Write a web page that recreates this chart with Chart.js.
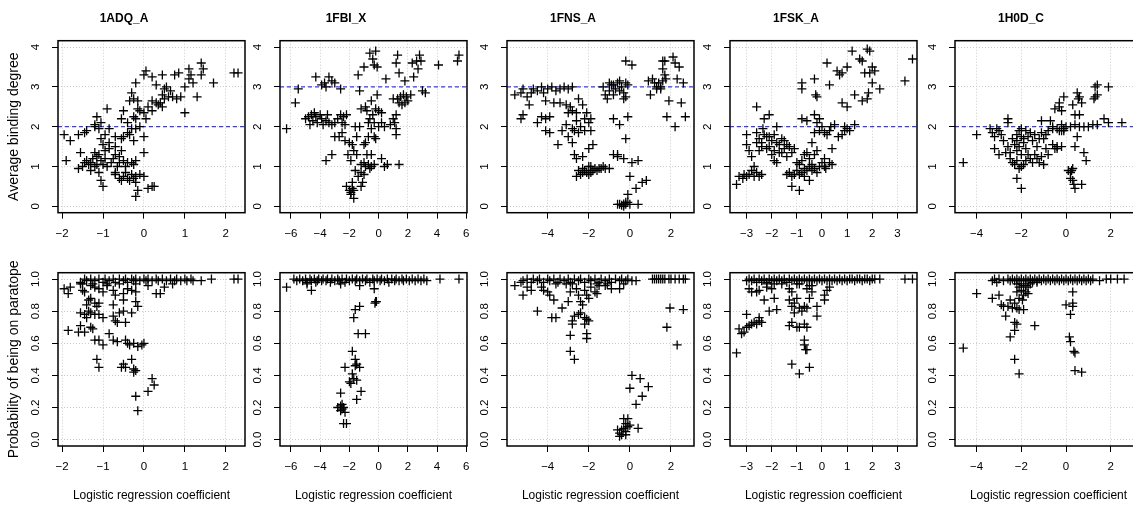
<!DOCTYPE html>
<html>
<head>
<meta charset="utf-8">
<script src="https://cdn.jsdelivr.net/npm/chart.js@4.4.1/dist/chart.umd.min.js"></script>
<style>
  html, body { margin: 0; padding: 0; background: #fff; overflow: hidden; }
  #wrap { position: relative; width: 1133px; height: 505px; overflow: hidden; }
  #wrap canvas { position: absolute; }
</style>
</head>
<body>
<div id="wrap"></div>
<script>
// proteins (one column each)
const panelNames = ['1ADQ_A', '1FBI_X', '1FNS_A', '1FSK_A', '1H0D_C'];
const xLimits = [[-2.1, 2.47], [-6.75, 6.05], [-5.98, 3.12], [-3.66, 3.78], [-4.97, 3.4]];
const xTicks = [[-2, -1, 0, 1, 2], [-6, -4, -2, 0, 2, 4, 6], [-4, -2, 0, 2], [-3, -2, -1, 0, 1, 2, 3], [-4, -2, 0, 2]];
const cutoffs = [2, 3, 3, 2, 2];   // dashed blue line, top row
const degreeTicks = [0, 1, 2, 3, 4];
const probTicks = [0, 0.2, 0.4, 0.6, 0.8, 1.0];

// top row: [coefficient, average binding degree]
const deg1ADQ = [
  [0.0,3.3],[0.05,3.4],[0.2,3.25],[0.45,3.3],[0.75,3.3],[0.85,3.35],[0.3,3.05],[1.1,3.45],[1.15,3.3],[1.2,3.1],[1.4,3.6],[1.45,3.45],[1.4,3.3],[1.7,3.1],[2.2,3.35],[2.3,3.35],[1.1,3.2],[1.0,3.0],[1.3,2.75],[0.9,2.75],[0.8,2.7],[0.65,2.9],[0.5,2.95],[0.45,2.8],[0.5,2.7],[0.4,2.6],[0.35,2.55],[0.2,2.65],[0.1,2.5],[0.2,2.4],[0.05,2.2],[0.0,2.35],[1.0,2.35],[0.6,2.75],[0.45,2.5],[0.55,3.0],[0.7,2.75],[0.3,2.6],
  [-0.2,3.1],[-0.35,2.65],[-0.25,2.7],[-0.3,2.85],[-0.15,2.65],[-0.15,2.45],[-0.1,2.4],[-0.2,2.2],[-0.25,2.25],[-0.5,2.4],[-0.55,2.2],[-0.1,2.0],[-0.2,1.95],[-0.3,1.95],[-0.4,1.85],[-0.35,1.8],[-0.5,1.75],[-0.55,1.7],[-0.7,1.75],[-0.9,2.45],[-0.85,1.95],[-0.95,1.8],[-1.05,2.1],[-1.1,1.95],[-1.2,2.05],[-1.15,2.25],[-1.2,2.0],[-1.4,1.9],[-1.45,1.85],[-1.6,1.8],[-1.95,1.8],[-1.8,1.65],[-1.9,1.15],[-1.55,1.35],[-1.05,1.7],[-1.0,1.55],[-0.85,1.6],[0.0,1.75],[0.0,1.35],[-0.7,1.5],[-0.4,2.1],[-0.25,1.65],
  [-1.6,0.95],[-1.5,1.0],[-1.45,1.1],[-1.35,1.05],[-1.3,0.9],[-1.25,1.2],[-1.2,1.0],[-1.15,1.25],[-1.1,1.3],[-1.05,1.15],[-1.0,1.05],[-0.95,1.4],[-1.1,0.85],[-1.05,0.65],[-1.0,0.5],[-0.9,1.0],[-0.8,1.1],[-0.75,1.2],[-0.7,1.3],[-0.6,1.25],[-0.65,1.0],[-0.55,1.4],[-0.5,1.15],[-0.45,1.0],[-0.4,1.1],[-0.3,1.1],[-0.25,1.05],[-0.2,1.15],[-1.4,1.15],[-1.2,1.35],[-0.85,1.45],[-0.7,0.85],[-1.3,1.1],[-1.15,1.05],[-0.95,1.2],[-0.6,1.1],
  [-0.7,0.8],[-0.6,0.7],[-0.5,0.75],[-0.45,0.85],[-0.4,0.7],[-0.3,0.8],[-0.25,0.7],[-0.2,0.75],[-0.1,0.8],[0.0,0.75],[-0.15,0.4],[-0.2,0.25],[0.1,0.45],[0.2,0.5],[0.25,0.5],[-0.35,0.65],[-0.55,0.65],[-0.2,0.6]
];
const deg1FBI = [
  [-6.3,1.95],[-5.5,2.95],[-5.7,2.6],
  [-5.0,2.2],[-4.8,2.25],[-4.6,2.3],[-4.5,2.15],[-4.3,2.25],[-4.2,2.1],[-4.0,2.3],[-3.9,2.2],[-3.8,2.05],[-3.6,2.15],[-3.5,2.3],[-3.4,2.1],[-3.2,2.05],[-3.0,2.1],[-2.8,2.2],[-2.6,2.3],[-2.4,2.25],[-2.5,2.1],[-2.2,2.3],[-2.3,2.05],[-4.7,2.05],[-4.4,2.35],
  [-4.3,3.25],[-3.9,3.05],[-3.7,3.1],[-3.6,3.0],[-3.4,3.25],[-3.2,3.15],[-3.0,3.1],[-2.6,2.95],
  [-3.6,1.15],[-3.2,1.3],
  [-3.0,1.75],[-2.7,1.75],[-2.5,1.85],[-2.3,1.65],[-2.0,1.6],[-1.8,1.55],[-1.6,2.0],[-1.5,1.75],[-2.1,1.3],[-1.9,1.15],[-1.7,1.4],[-1.5,1.3],[-1.6,0.9],
  [-2.2,0.5],[-2.0,0.4],[-1.9,0.35],[-1.8,0.45],[-1.7,0.4],[-1.9,0.3],[-1.7,0.2],[-1.8,0.6],[-1.2,0.5],[-1.1,0.6],[-1.4,0.75],[-1.2,0.85],[-1.0,0.8],[-0.9,1.0],[-0.7,1.05],[-0.5,1.0],[-0.3,1.05],[-0.8,1.3],[-0.5,1.3],[0.2,1.2],[0.4,1.0],[0.6,1.05],[1.4,1.05],[-1.2,1.05],[-1.0,1.1],[-0.6,0.95],
  [-1.3,2.0],[-1.0,1.55],[-0.9,1.6],[-0.7,1.75],[-0.5,1.95],[-0.3,1.75],[-0.2,1.7],[0.0,2.0],[0.2,2.1],[0.4,2.0],[0.8,2.05],[1.0,2.2],[1.2,1.95],[1.2,1.8],[-1.2,2.45],[-0.9,2.5],[-0.8,2.4],[-0.6,2.2],[-0.4,2.3],[-0.2,2.45],[0.0,2.4],[-0.5,2.65],[-0.1,2.8],[0.2,2.35],[-0.7,2.1],[-0.3,2.1],
  [-1.4,3.3],[-1.3,2.9],[-1.0,3.5],[-0.6,3.85],[-0.2,3.9],[-0.4,3.7],[-0.1,3.5],[-0.3,3.55],[0.5,3.2],[1.3,3.8],[1.2,3.6],[1.4,3.35],[1.8,3.15],[2.3,3.6],[2.6,3.65],[2.4,3.25],[2.8,3.8],[2.9,3.65],[2.7,3.45],[3.0,2.9],[3.2,2.85],[4.1,3.55],[5.5,3.8],[5.4,3.65],
  [1.0,2.7],[1.3,2.7],[1.4,2.6],[1.6,2.55],[1.7,2.8],[1.9,2.75],[2.0,2.65],[2.2,2.8],[1.5,2.75],[1.8,2.6],[1.2,2.3],[1.1,2.1]
];
const deg1FNS = [
  [-5.6,2.8],[-5.3,2.85],[-5.2,2.95],[-5.0,2.75],[-4.8,2.85],[-4.7,2.95],[-4.5,2.9],[-4.3,3.0],[-4.2,2.85],[-4.0,2.95],[-3.8,3.0],[-3.6,2.9],[-3.4,2.95],[-3.2,3.0],[-3.0,2.95],[-2.8,3.0],[-4.1,2.65],[-3.7,2.6],[-3.4,2.6],[-3.1,2.55],[-2.9,2.5],[-2.6,2.35],[-4.9,2.55],[-4.5,2.1],[-5.3,2.2],[-5.2,2.3],[-4.3,2.25],[-4.1,2.2],[-3.9,2.25],[-2.5,2.7],
  [-3.0,2.35],[-2.8,2.4],[-2.6,2.15],[-2.4,2.0],[-2.2,2.2],[-2.0,2.1],[-1.9,2.2],[-2.1,2.35],[-2.3,2.55],[-2.8,1.95],[-2.7,1.9],[-3.1,2.05],[-3.3,1.9],[-3.0,1.75],[-2.8,1.6],[-2.5,1.85],[-2.2,1.9],[-1.9,1.9],[-2.0,1.45],[-1.8,1.55],[-3.5,1.55],[-4.1,1.9],[-3.9,1.85],[-2.7,1.3],[-2.6,1.2],[-2.3,1.25],
  [-2.6,0.75],[-2.4,0.8],[-2.3,0.85],[-2.2,0.9],[-2.1,0.85],[-2.0,0.8],[-1.9,0.85],[-1.8,0.9],[-1.7,0.95],[-1.6,0.9],[-1.5,0.95],[-1.4,0.95],[-1.3,1.0],[-1.2,0.95],[-2.0,1.0],[-2.3,0.95],[-2.5,0.9],[-1.9,1.0],[-1.0,0.95],
  [-1.3,3.0],[-1.2,2.8],[-1.1,2.7],[-1.0,2.9],[-0.9,3.05],[-0.8,2.8],[-0.7,2.95],[-0.6,3.1],[-0.5,2.9],[-0.4,3.0],[-0.3,2.85],[-0.2,3.1],[-0.1,3.05],[-0.3,2.7],[-0.2,2.75],[-0.5,3.15],[-0.8,3.05],[-1.0,3.1],[-0.2,3.65],[0.1,3.55],
  [-0.8,2.2],[-0.5,2.05],[-0.1,2.25],[-0.2,1.7],[-0.8,1.3],[-0.6,1.3],[-0.6,1.25],[-0.3,1.2],[0.1,1.1],[0.4,1.15],[0.0,0.75],[0.3,0.45],[0.6,0.6],[0.8,0.65],
  [-0.6,0.05],[-0.5,0.05],[-0.4,0.03],[-0.3,0.06],[-0.2,0.05],[-0.1,0.1],[-0.2,0.1],[-0.3,0.0],[0.0,0.05],[-0.1,0.3],[0.4,0.05],
  [0.9,3.15],[1.0,2.8],[1.1,3.2],[1.2,3.1],[1.3,3.0],[1.4,3.1],[1.5,3.0],[1.6,3.15],[1.7,3.3],[1.75,3.2],[1.6,3.45],[1.6,3.65],[1.7,3.65],[2.1,3.75],[2.2,3.6],[2.4,3.5],[2.3,3.2],[2.6,3.1],[1.9,2.65],[2.5,2.6],[2.7,2.25],[1.8,2.25],[2.2,2.0],[1.3,2.95],[1.5,2.95]
];
const deg1FSK = [
  [-3.4,0.55],[-3.3,0.75],[-3.15,0.7],[-3.0,0.75],[-2.9,0.8],[-2.8,0.9],[-2.7,1.0],[-2.6,0.85],[-2.5,0.75],[-2.4,0.8],[-2.7,0.75],[-3.1,0.8],
  [-3.0,1.8],[-3.0,1.55],[-2.9,1.4],[-2.8,1.25],[-2.6,1.85],[-2.5,1.7],[-2.4,1.6],[-2.3,1.8],[-2.2,1.75],[-2.2,1.45],[-2.1,1.5],[-2.0,1.3],[-1.9,1.4],[-1.8,1.6],[-1.7,1.55],[-1.6,1.7],[-1.5,1.65],[-1.4,1.55],[-1.3,1.5],[-1.2,1.35],[-1.1,1.45],[-2.5,1.4],[-2.4,1.5],[-2.0,1.65],[-1.9,1.8],[-1.7,1.35],[-1.9,1.15],[-1.8,1.1],[-1.6,1.35],[-1.4,1.25],[-1.5,1.45],[-2.6,1.6],[-2.1,1.75],[-2.35,1.95],[-1.8,2.0],
  [-2.6,2.5],[-2.3,2.2],[-2.1,2.3],
  [-1.4,0.8],[-1.3,0.85],[-1.2,0.75],[-1.1,0.8],[-1.0,0.9],[-0.9,0.8],[-0.8,0.85],[-0.7,0.95],[-0.6,0.9],[-0.5,1.0],[-0.4,0.9],[-1.2,0.5],[-0.9,0.4],[-1.0,1.1],[-0.9,1.05],[-0.8,1.15],[-0.7,1.3],[-0.6,1.35],[-0.5,1.2],[-0.4,1.05],[-0.3,0.95],[-0.2,0.85],[-0.5,0.65],[-0.7,0.75],[-0.1,1.0],[0.1,1.0],[0.15,0.95],[0.3,1.1],[0.1,1.2],[0.4,1.05],[0.0,1.1],[-0.3,1.3],[-0.2,1.4],[-0.4,1.6],[-0.3,1.85],[-0.2,2.1],[-0.1,2.2],[-0.3,2.3],[0.0,2.0],[0.1,1.85],[-0.1,1.9],[0.2,1.8],[0.3,1.9],[0.35,2.0],[0.5,2.05],[-0.8,2.2],[-0.6,2.15],[0.4,1.45],[0.65,1.75],[0.8,1.8],[0.9,1.9],[1.0,1.95],[1.1,1.9],[1.3,2.05],[0.9,2.0],
  [-0.8,3.1],[-0.8,2.95],[-0.3,3.2],[-0.25,2.8],[-0.2,2.75],[0.2,3.6],[0.3,3.05],[0.6,3.4],[0.7,3.3],[0.8,3.35],[0.8,2.6],[1.0,2.5],[1.2,3.9],[1.0,3.5],[1.3,2.8],[1.5,3.7],[1.6,3.65],[1.7,3.35],[1.8,3.95],[1.9,3.9],[2.0,3.5],[2.0,3.1],[2.1,3.4],[1.9,3.35],[1.6,2.65],[1.8,2.7],[1.85,2.85],[2.3,2.95],[3.3,3.15],[3.6,3.7]
];
const deg1H0D = [
  [-4.6,1.1],[-4.0,1.8],
  [-3.4,1.95],[-3.3,1.85],[-3.2,1.75],[-3.1,1.95],[-3.0,1.9],[-2.9,1.8],[-2.8,1.65],[-3.2,1.45],[-3.0,1.3],[-2.7,1.35],[-2.6,1.5],[-2.5,1.35],[-2.6,2.1],[-2.6,2.2],
  [-2.5,1.2],[-2.4,1.1],[-2.3,1.05],[-2.2,1.15],[-2.1,0.95],[-2.0,1.0],[-2.0,1.3],[-2.1,1.5],[-2.2,1.65],[-2.2,1.8],[-2.1,1.9],[-2.0,1.75],[-1.9,1.6],[-1.8,1.45],[-1.7,1.3],[-1.8,1.15],[-1.9,1.05],[-1.6,1.2],[-1.5,1.1],[-1.4,1.3],[-1.3,1.2],[-1.2,1.1],[-1.1,1.25],[-1.0,1.05],[-1.3,1.5],[-1.2,1.7],[-1.1,1.85],[-1.0,1.7],[-0.9,1.8],[-0.8,1.9],[-1.4,1.8],[-1.6,1.85],[-1.8,1.9],[-2.0,1.95],[-1.9,1.7],[-1.7,1.75],[-1.5,1.65],[-2.2,0.7],[-2.0,0.45],[-2.2,1.4],[-2.3,1.55],[-2.4,1.7],[-0.8,1.3],[-0.9,1.45],[-0.6,1.55],[-0.4,1.5],[-0.5,1.45],[-1.1,2.15],[-0.7,2.15],[-0.5,2.45],[-0.3,2.5],
  [-0.6,2.0],[-0.4,1.95],[-0.2,2.05],[0.0,2.0],[0.2,2.0],[0.4,2.05],[0.6,2.0],[0.8,2.0],[1.0,2.0],[1.2,2.05],[1.4,2.05],[1.7,2.2],[1.9,2.1],[2.5,2.1],[-0.1,1.95],[-0.3,1.9],[-0.2,1.9],[-0.1,1.9],[-0.6,1.95],
  [-0.4,1.45],[-0.2,1.5],[0.4,1.5],[0.5,1.75],[0.8,1.35],[0.9,1.15],[0.4,2.3],[0.3,2.55],[0.6,2.3],[-0.2,2.4],[-0.3,2.6],[-0.1,2.75],[0.5,2.85],[0.6,2.75],[0.7,2.6],[0.55,2.7],[1.3,3.0],[1.4,3.05],[1.3,2.75],[1.4,2.8],[1.25,2.7],[1.9,3.0],
  [0.1,0.9],[0.2,0.85],[0.3,0.95],[0.2,0.7],[0.3,0.65],[0.35,0.55],[0.4,0.45],[0.7,0.55],[0.25,0.9]
];

// bottom row: [coefficient, probability of being on paratope]
const prob1ADQ = [
  [-1.55,0.98],[-1.45,1.0],[-1.4,0.99],[-1.3,1.0],[-1.2,0.99],[-1.1,1.0],[-1.0,0.98],[-0.95,1.0],[-0.85,0.99],[-0.75,1.0],[-0.7,0.98],[-0.6,1.0],[-0.5,0.99],[-0.45,1.0],[-0.4,0.98],[-0.3,1.0],[-0.25,0.99],[-0.2,1.0],[-0.1,0.99],[0.0,1.0],[0.05,0.99],[0.1,1.0],[0.2,0.99],[0.3,1.0],[0.35,0.99],[0.45,1.0],[0.55,0.99],[0.65,1.0],[0.75,0.99],[0.8,1.0],[0.9,0.99],[1.0,1.0],[1.05,0.99],[1.15,1.0],[1.2,0.99],[1.4,0.99],[1.65,1.0],[2.2,1.0],[2.3,1.0],[-1.5,0.97],[-0.6,0.97],[-0.2,0.97],[0.1,0.96],[0.5,0.95],[0.7,0.97],[-0.9,0.97],[-1.25,0.97],
  [-1.95,0.94],[-1.85,0.91],[-1.8,0.95],[-1.55,0.97],[-1.5,0.93],[-1.45,0.92],[-1.3,0.96],[-1.2,0.95],[-1.1,0.94],[-1.0,0.92],[-0.9,0.96],[-0.75,0.93],[-0.7,0.9],[-0.5,0.91],[-0.4,0.94],[-0.3,0.93],[-0.2,0.92],[0.3,0.91],[0.4,0.91],
  [-1.4,0.84],[-1.35,0.87],[-1.3,0.88],[-1.2,0.85],[-1.15,0.83],[-1.1,0.85],[-0.5,0.87],[-0.2,0.86],[-0.15,0.83],[-0.75,0.84],
  [-1.55,0.79],[-1.45,0.78],[-1.4,0.76],[-1.35,0.8],[-1.3,0.79],[-1.2,0.78],[-1.1,0.78],[-1.0,0.76],[-0.75,0.77],[-0.7,0.74],[-0.65,0.73],[-0.6,0.79],[-0.5,0.8],[-0.3,0.79],[-0.45,0.73],
  [-1.85,0.68],[-1.6,0.67],[-1.55,0.71],[-1.45,0.67],[-1.3,0.7],[-1.25,0.69],[-0.85,0.66],
  [-1.2,0.62],[-1.1,0.62],[-1.0,0.59],[-0.75,0.62],[-0.65,0.61],[-0.45,0.62],[-0.4,0.6],[-0.35,0.59],[-0.25,0.6],[-0.15,0.58],[0.0,0.6],[-0.05,0.59],
  [-1.15,0.5],[-1.1,0.45],[-0.55,0.45],[-0.5,0.47],[-0.45,0.45],[-0.3,0.5],[-0.25,0.44],[-0.2,0.43],[-0.25,0.42],
  [0.2,0.38],[0.25,0.34],[0.1,0.3],[-0.2,0.27],[-0.15,0.18]
];
const prob1FBI = [
  [-5.8,1.0],[-5.6,0.99],[-5.4,1.0],[-5.2,0.99],[-5.0,1.0],[-4.9,0.98],[-4.7,1.0],[-4.6,0.99],[-4.4,1.0],[-4.2,0.99],[-4.1,1.0],[-3.9,0.99],[-3.8,1.0],[-3.6,0.99],[-3.5,1.0],[-3.3,0.98],[-3.2,1.0],[-3.0,0.99],[-2.8,1.0],[-2.7,0.99],[-2.5,1.0],[-2.3,0.98],[-2.2,1.0],[-2.0,0.99],[-1.8,1.0],[-1.6,0.99],[-1.5,1.0],[-1.3,0.99],[-1.1,1.0],[-0.9,0.99],[-0.8,1.0],[-0.6,0.98],[-0.4,1.0],[-0.3,0.99],[-0.1,1.0],[0.1,0.99],[0.2,1.0],[0.4,0.99],[0.6,1.0],[0.7,0.98],[0.9,1.0],[1.1,0.99],[1.2,1.0],[1.4,0.99],[1.6,1.0],[1.7,0.99],[1.9,1.0],[2.1,0.99],[2.3,1.0],[2.5,0.99],[2.7,1.0],[2.9,0.99],[3.1,1.0],[3.3,0.99],[4.2,1.0],[5.5,1.0],[-4.9,0.97],[-4.3,0.98],[-2.6,0.97],
  [-6.3,0.95],[-4.6,0.93],[-1.3,0.96],[-0.3,0.94],[-0.2,0.86],[-0.25,0.85],[-0.15,0.86],[-1.6,0.81],[-1.3,0.83],[-1.7,0.76],[-1.4,0.66],[-0.9,0.66],
  [-1.8,0.55],[-1.6,0.5],[-1.5,0.47],[-1.6,0.46],[-1.3,0.45],[-2.3,0.45],[-1.8,0.41],[-1.7,0.38],[-1.5,0.37],[-2.0,0.36],[-1.9,0.35],[-1.2,0.3],[-1.5,0.25],
  [-2.6,0.29],[-2.8,0.2],[-2.6,0.21],[-2.5,0.22],[-2.4,0.2],[-2.6,0.18],[-2.5,0.19],[-2.3,0.17],[-2.4,0.1],[-2.2,0.1]
];
const prob1FNS = [
  [-5.2,0.99],[-5.0,1.0],[-4.8,0.98],[-4.7,1.0],[-4.5,0.99],[-4.4,1.0],[-4.2,0.98],[-4.0,1.0],[-3.9,0.99],[-3.7,1.0],[-3.5,0.98],[-3.4,1.0],[-3.2,0.99],[-3.0,1.0],[-2.9,0.98],[-2.7,1.0],[-2.5,0.99],[-2.4,1.0],[-2.2,0.98],[-2.0,1.0],[-1.9,0.99],[-1.7,1.0],[-1.5,0.98],[-1.4,1.0],[-1.2,0.99],[-1.0,1.0],[-0.9,0.98],[-0.7,1.0],[-0.5,0.99],[-0.4,1.0],[-0.2,0.99],[-0.1,1.0],[0.1,0.99],[0.3,0.99],[1.1,1.0],[1.2,1.0],[1.3,1.0],[1.4,1.0],[1.5,1.0],[1.6,1.0],[1.7,1.0],[1.9,1.0],[2.0,1.0],[2.2,1.0],[2.4,1.0],[2.6,1.0],[2.7,1.0],[-3.6,0.97],[-2.8,0.97],[-1.1,0.97],[-0.3,0.97],[-1.6,0.97],
  [-5.6,0.96],[-5.3,0.98],[-5.2,0.9],[-5.0,0.95],[-4.8,0.93],[-4.3,0.95],[-4.2,0.93],[-4.0,0.92],[-3.9,0.9],[-3.7,0.87],[-4.5,0.8],[-3.8,0.76],[-3.6,0.76],[-3.3,0.82],[-3.0,0.86],[-2.9,0.92],[-3.1,0.97],[-2.6,0.94],[-2.5,0.9],[-2.4,0.86],[-2.3,0.84],[-2.2,0.93],[-2.1,0.9],[-2.0,0.88],[-1.9,0.95],[-1.7,0.92],[-1.6,0.91],[-1.5,0.96],[-1.2,0.96],[-0.9,0.94],[-0.5,0.94],
  [-2.7,0.77],[-2.5,0.78],[-2.4,0.79],[-2.2,0.76],[-2.1,0.75],[-2.2,0.72],[-2.0,0.74],[-2.8,0.74],[-2.8,0.72],[-2.9,0.65],[-2.1,0.66],[-2.1,0.63],[-2.9,0.55],[-2.7,0.5],
  [0.1,0.4],[0.5,0.38],[0.0,0.32],[0.9,0.33],[0.6,0.27],[0.3,0.22],
  [-0.6,0.06],[-0.5,0.04],[-0.4,0.06],[-0.3,0.07],[-0.2,0.05],[-0.1,0.08],[-0.2,0.1],[-0.3,0.13],[-0.1,0.13],[0.0,0.09],[-0.4,0.03],[0.4,0.07],[-0.5,0.02],[-0.2,0.03],
  [1.8,0.7],[1.95,0.82],[2.3,0.59],[2.6,0.81]
];
const prob1FSK = [
  [-3.0,0.99],[-2.9,1.0],[-2.8,0.99],[-2.7,1.0],[-2.6,0.98],[-2.5,1.0],[-2.4,0.99],[-2.3,1.0],[-2.2,0.98],[-2.1,1.0],[-2.0,0.99],[-1.9,1.0],[-1.8,0.99],[-1.7,1.0],[-1.6,0.99],[-1.5,1.0],[-1.4,0.98],[-1.3,1.0],[-1.2,0.99],[-1.1,1.0],[-1.0,0.99],[-0.9,1.0],[-0.8,0.99],[-0.7,1.0],[-0.6,0.99],[-0.5,1.0],[-0.4,0.99],[-0.3,1.0],[-0.2,0.99],[-0.1,1.0],[0.0,0.99],[0.1,1.0],[0.2,0.99],[0.3,1.0],[0.4,0.99],[0.5,1.0],[0.6,0.99],[0.7,1.0],[0.8,0.99],[0.9,1.0],[1.0,0.99],[1.1,1.0],[1.2,1.0],[1.3,0.99],[1.4,1.0],[1.5,1.0],[1.6,0.99],[1.7,1.0],[1.8,1.0],[1.9,0.99],[2.0,1.0],[2.1,1.0],[2.3,1.0],[3.3,1.0],[3.6,1.0],[-2.2,0.97],[-1.6,0.97],[-1.0,0.97],[-0.5,0.96],
  [-3.4,0.54],[-3.3,0.69],[-3.2,0.66],[-3.1,0.67],[-3.0,0.78],[-3.0,0.7],[-2.9,0.71],[-2.8,0.72],[-2.7,0.73],[-2.6,0.72],[-2.5,0.76],[-2.5,0.74],[-2.4,0.73],[-2.1,0.8],[-1.8,0.81],[-2.3,0.87],[-1.9,0.88],[-2.9,0.94],[-2.8,0.92],[-2.6,0.92],[-2.5,0.93],[-2.2,0.95],[-1.9,0.97],[-2.0,0.94],
  [-1.3,0.94],[-1.2,0.92],[-1.3,0.87],[-1.2,0.83],[-1.1,0.85],[-1.0,0.88],[-1.1,0.79],[-1.2,0.73],[-1.3,0.71],[-1.0,0.7],[-0.9,0.7],[-0.8,0.8],[-0.9,0.82],[-0.7,0.83],[-0.6,0.82],[-0.5,0.88],[-0.6,0.94],[-0.4,0.92],[-0.2,0.83],[-0.2,0.77],[-0.7,0.72],[-0.6,0.7],[0.1,0.87],[0.1,0.9],[0.2,0.93],[-0.7,0.62],[-0.7,0.59],[-0.65,0.56],[-0.6,0.56],[-1.2,0.47],[-0.9,0.41],[-0.5,0.45],[-0.9,0.97],[-0.4,0.96],[0.3,0.95]
];
const prob1H0D = [
  [-3.3,0.99],[-3.2,1.0],[-3.1,0.98],[-3.0,1.0],[-2.8,0.99],[-2.6,1.0],[-2.5,0.99],[-2.4,1.0],[-2.3,0.99],[-2.2,1.0],[-2.1,0.99],[-2.0,1.0],[-1.9,0.99],[-1.8,1.0],[-1.7,0.99],[-1.6,1.0],[-1.5,0.99],[-1.4,1.0],[-1.3,0.99],[-1.2,1.0],[-1.1,0.99],[-1.0,1.0],[-0.9,0.99],[-0.8,1.0],[-0.7,0.99],[-0.6,1.0],[-0.5,0.99],[-0.4,1.0],[-0.3,0.99],[-0.2,1.0],[-0.1,0.99],[0.0,1.0],[0.1,0.99],[0.2,1.0],[0.3,0.99],[0.4,1.0],[0.5,0.99],[0.6,1.0],[0.7,0.99],[0.8,1.0],[0.9,0.99],[1.0,1.0],[1.1,0.99],[1.2,1.0],[1.5,0.99],[1.8,1.0],[2.0,1.0],[2.3,1.0],[2.6,1.0],
  [-4.6,0.57],[-4.0,0.91],[-3.3,0.88],[-3.0,0.9],[-2.9,0.84],[-2.8,0.83],[-2.7,0.77],[-2.6,0.83],[-2.5,0.87],[-2.4,0.82],[-2.3,0.85],[-2.2,0.82],[-2.1,0.81],[-1.9,0.81],[-2.3,0.73],[-2.2,0.72],[-2.3,0.68],[-2.5,0.64],[-2.3,0.5],[-2.1,0.41],[-1.4,0.71],
  [-2.2,0.97],[-2.1,0.95],[-2.0,0.93],[-1.9,0.9],[-1.8,0.92],[-1.7,0.95],[-1.6,0.97],[-2.0,0.97],[-1.9,0.96],[-1.8,0.96],[-2.2,0.92],[-1.7,0.91],[-1.5,0.98],[-1.3,0.98],[-2.1,0.88],[-1.95,0.87],
  [0.0,0.84],[0.3,0.92],[0.3,0.85],[0.3,0.83],[0.2,0.78],[0.15,0.64],[0.2,0.61],[0.35,0.55],[0.4,0.54],[0.4,0.43],[0.7,0.42]
];

const degreeSets = [deg1ADQ, deg1FBI, deg1FNS, deg1FSK, deg1H0D];
const probSets = [prob1ADQ, prob1FBI, prob1FNS, prob1FSK, prob1H0D];

// layout of the R figure
const boxLefts = [58, 280, 507, 730, 955];
const FONT = '"Liberation Sans", Arial, Helvetica, sans-serif';
const wrap = document.getElementById('wrap');

const minus = v => String(v).replace('-', '\u2212');

// box round the plot region + y tick labels written sideways like R does
function rFrame(fmt) {
  return {
    id: 'rFrame',
    afterDraw(chart) {
      const { ctx, chartArea: a } = chart;
      const y = chart.scales.y;
      ctx.save();
      ctx.fillStyle = '#000';
      ctx.font = '11.5px ' + FONT;
      ctx.textAlign = 'center';
      ctx.textBaseline = 'middle';
      y.ticks.forEach(t => {
        ctx.save();
        ctx.translate(a.left - 22, y.getPixelForValue(t.value));
        ctx.rotate(-Math.PI / 2);
        ctx.fillText(fmt(t.value), 0, 0);
        ctx.restore();
      });
      ctx.lineWidth = 1.5;
      ctx.strokeStyle = '#000';
      ctx.strokeRect(a.left, a.top, a.width, a.height);
      ctx.restore();
    }
  };
}

function makePanel(i, row) {
  const top = row === 0;
  const canvas = document.createElement('canvas');
  canvas.width = 255;
  canvas.height = top ? 240 : 255;
  canvas.style.left = (boxLefts[i] - 55) + 'px';
  canvas.style.top = (top ? 0 : 250) + 'px';
  wrap.appendChild(canvas);

  const pts = (top ? degreeSets[i] : probSets[i]).map(p => ({ x: p[0], y: p[1] }));
  const yTicks = top ? degreeTicks : probTicks;
  const yFmt = top ? (v => String(v)) : (v => v.toFixed(1));

  const datasets = [{
    type: 'scatter',
    data: pts,
    pointStyle: 'cross',
    pointRadius: 4.5,
    pointBorderWidth: 1.3,
    borderColor: '#000',
    backgroundColor: '#000',
    order: 1
  }];
  if (top) {
    datasets.push({
      type: 'line',
      data: [{ x: xLimits[i][0], y: cutoffs[i] }, { x: xLimits[i][1], y: cutoffs[i] }],
      borderColor: '#3a3aff',
      borderWidth: 1.3,
      borderDash: [4, 3],
      pointRadius: 0,
      order: 2
    });
  }

  new Chart(canvas, {
    type: 'scatter',
    data: { datasets },
    options: {
      responsive: false,
      animation: false,
      events: [],
      layout: { padding: { top: top ? 0 : 22.7, right: 13, bottom: 0, left: 0 } },
      plugins: {
        legend: { display: false },
        tooltip: { enabled: false },
        title: {
          display: top,
          text: panelNames[i],
          color: '#000',
          font: { family: FONT, size: 12, weight: 'bold', lineHeight: 1.2 },
          padding: { top: 11.5, bottom: 14.8 }
        }
      },
      scales: {
        x: {
          type: 'linear',
          min: xLimits[i][0],
          max: xLimits[i][1],
          afterBuildTicks: s => { s.ticks = xTicks[i].map(v => ({ value: v })); },
          afterFit: s => { s.height = top ? 27.3 : 59; },
          ticks: {
            autoSkip: false, maxRotation: 0, padding: 8, color: '#000',
            font: { family: FONT, size: 11.5 },
            callback: v => minus(v)
          },
          grid: {
            color: '#cccccc', lineWidth: 1, drawTicks: true, tickLength: 6,
            tickColor: '#000', tickWidth: 1, tickBorderDash: []
          },
          border: { display: false, dash: [1, 2] },
          title: {
            display: !top,
            text: 'Logistic regression coefficient',
            color: '#000',
            font: { family: FONT, size: 12, lineHeight: 1.2 },
            padding: { top: 0, bottom: 2 }
          }
        },
        y: {
          type: 'linear',
          min: top ? -0.16 : -0.04,
          max: top ? 4.16 : 1.04,
          afterBuildTicks: s => { s.ticks = yTicks.map(v => ({ value: v })); },
          afterFit: s => { s.width = 55; },
          ticks: { display: false },
          grid: {
            color: '#cccccc', lineWidth: 1, drawTicks: true, tickLength: 6,
            tickColor: '#000', tickWidth: 1, tickBorderDash: []
          },
          border: { display: false, dash: [1, 2] },
          title: {
            display: i === 0,
            text: top ? 'Average binding degree' : 'Probability of being on paratope',
            color: '#000',
            font: { family: FONT, size: 14, lineHeight: 1.2 },
            padding: { top: 2.5, bottom: 0 }
          }
        }
      }
    },
    plugins: [rFrame(yFmt)]
  });
}

for (let i = 0; i < panelNames.length; i++) {
  makePanel(i, 0);
  makePanel(i, 1);
}
</script>
</body>
</html>
